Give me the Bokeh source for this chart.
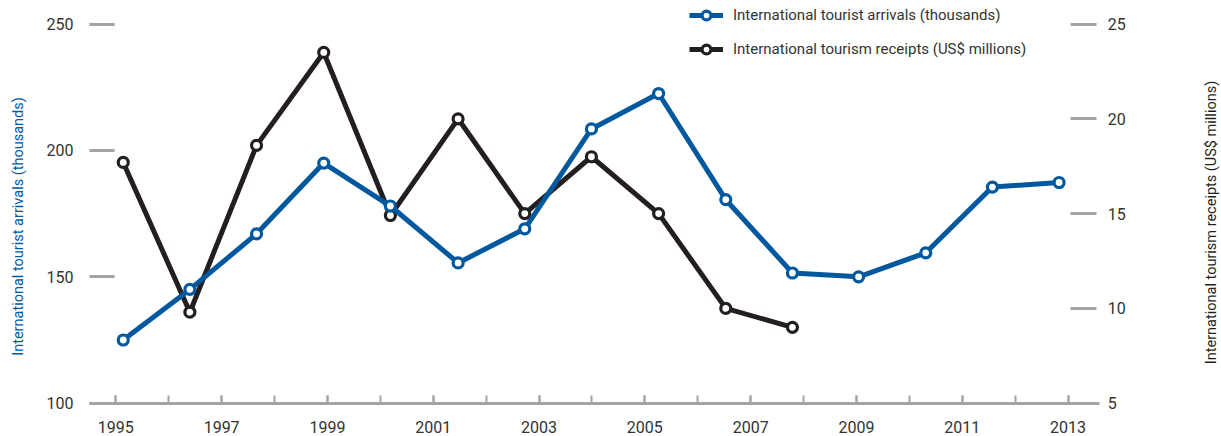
import math
from bokeh.plotting import figure
from bokeh.models import (Range1d, LinearAxis, FixedTicker, Legend, LegendItem,
                          ColumnDataSource, Label)
from bokeh.embed import file_html
from bokeh.resources import INLINE

# ---- data ----
x_pos = [1995.14, 1996.40, 1997.66, 1998.93, 2000.19, 2001.47, 2002.73, 2003.99,
         2005.26, 2006.53, 2007.79, 2009.04, 2010.31, 2011.57, 2012.83]
arrivals = [125, 145, 167, 195, 178, 155.5, 169, 208.5, 222.5, 180.5, 151.5, 150, 159.5, 185.5, 187.3]
receipts = [17.7, 9.8, 18.6, 23.5, 14.9, 20.0, 15.0, 18.0, 15.0, 10.0, 9.0]
x_labels_years = [1995, 1997, 1999, 2001, 2003, 2005, 2007, 2009, 2011, 2013]
x_all_years = list(range(1995, 2014))
left_ticks = [100, 150, 200, 250]
right_ticks = [5, 10, 15, 20, 25]
left_title = "International tourist arrivals (thousands)"
right_title = "International tourism receipts (US$ millions)"

BLUE = "#00589f"
BLACK = "#231f20"
GRAY = "#a3a3a3"
TXT = "#333333"
FONT = "Roboto"

# the frame spans the whole canvas; all axes are placed with fixed_location
X_LEFT, X_RIGHT = 1994.50, 2013.54
p = figure(width=1221, height=436, output_backend="svg", toolbar_location=None,
           x_range=Range1d(1992.82, 2015.90), y_range=Range1d(86.83, 259.3),
           min_border=0, min_border_left=0, min_border_right=0, min_border_top=0,
           min_border_bottom=0, outline_line_color=None)
p.extra_y_ranges = {"r": Range1d(3.244, 26.24)}
p.grid.visible = False
p.background_fill_color = "white"
p.border_fill_color = "white"

src_a = ColumnDataSource(dict(x=x_pos, y=arrivals))
src_r = ColumnDataSource(dict(x=x_pos[:len(receipts)], y=receipts))

lr = p.line("x", "y", source=src_r, y_range_name="r", line_color=BLACK, line_width=5)
sr = p.scatter("x", "y", source=src_r, y_range_name="r", size=10, fill_color="white",
               line_color=BLACK, line_width=3.2)
la = p.line("x", "y", source=src_a, line_color=BLUE, line_width=5)
sa = p.scatter("x", "y", source=src_a, size=10, fill_color="white",
               line_color=BLUE, line_width=3.2)

# x axis
xa = p.xaxis[0]
xa.fixed_location = left_ticks[0]
xa.bounds = (X_LEFT, 2013.60)
xa.ticker = FixedTicker(ticks=x_labels_years, minor_ticks=x_all_years)
xa.axis_line_color = GRAY
xa.axis_line_width = 3
xa.major_tick_in = 8
xa.major_tick_out = 0
xa.minor_tick_in = 8
xa.minor_tick_out = 0
xa.major_tick_line_color = GRAY
xa.minor_tick_line_color = GRAY
xa.major_tick_line_width = 2
xa.minor_tick_line_width = 2
xa.major_label_text_font = FONT
xa.major_label_text_font_size = "16px"
xa.major_label_text_color = TXT
xa.major_label_standoff = 18

# left axis
ya = p.yaxis[0]
ya.fixed_location = X_LEFT
ya.ticker = FixedTicker(ticks=left_ticks)
ya.axis_line_color = None
ya.major_tick_in = 25
ya.major_tick_out = 0
ya.minor_tick_line_color = None
ya.major_tick_line_color = GRAY
ya.major_tick_line_width = 3
ya.major_label_text_font = FONT
ya.major_label_text_font_size = "16px"
ya.major_label_text_color = TXT
ya.major_label_standoff = 16

# right axis
ra = LinearAxis(y_range_name="r", ticker=FixedTicker(ticks=right_ticks))
ra.fixed_location = X_RIGHT
ra.axis_line_color = None
ra.major_tick_in = 26
ra.major_tick_out = 0
ra.minor_tick_line_color = None
ra.major_tick_line_color = GRAY
ra.major_tick_line_width = 3
ra.major_label_text_font = FONT
ra.major_label_text_font_size = "16px"
ra.major_label_text_color = TXT
ra.major_label_standoff = 11
p.add_layout(ra, "right")

# axis titles, rotated to read bottom-to-top
p.add_layout(Label(x=18, y=210, x_units="screen", y_units="screen", angle=math.pi / 2,
                   text=left_title, text_font=FONT, text_font_size="14.5px",
                   text_color=BLUE, text_align="center", text_baseline="middle"))
p.add_layout(Label(x=1211, y=214, x_units="screen", y_units="screen", angle=math.pi / 2,
                   text=right_title, text_font=FONT, text_font_size="14.5px",
                   text_color=BLACK, text_align="center", text_baseline="middle"))

legend = Legend(items=[
    LegendItem(label=left_title, renderers=[la, sa]),
    LegendItem(label=right_title, renderers=[lr, sr]),
], location=(689, 375.7))
legend.padding = 0
legend.margin = 0
legend.border_line_color = None
legend.background_fill_alpha = 0
legend.glyph_width = 34
legend.glyph_height = 22
legend.label_height = 22
legend.spacing = 12
legend.label_standoff = 10
legend.label_text_font = FONT
legend.label_text_font_size = "15px"
legend.label_text_color = TXT
p.add_layout(legend)

open("out.html", "w").write(file_html(p, INLINE))
